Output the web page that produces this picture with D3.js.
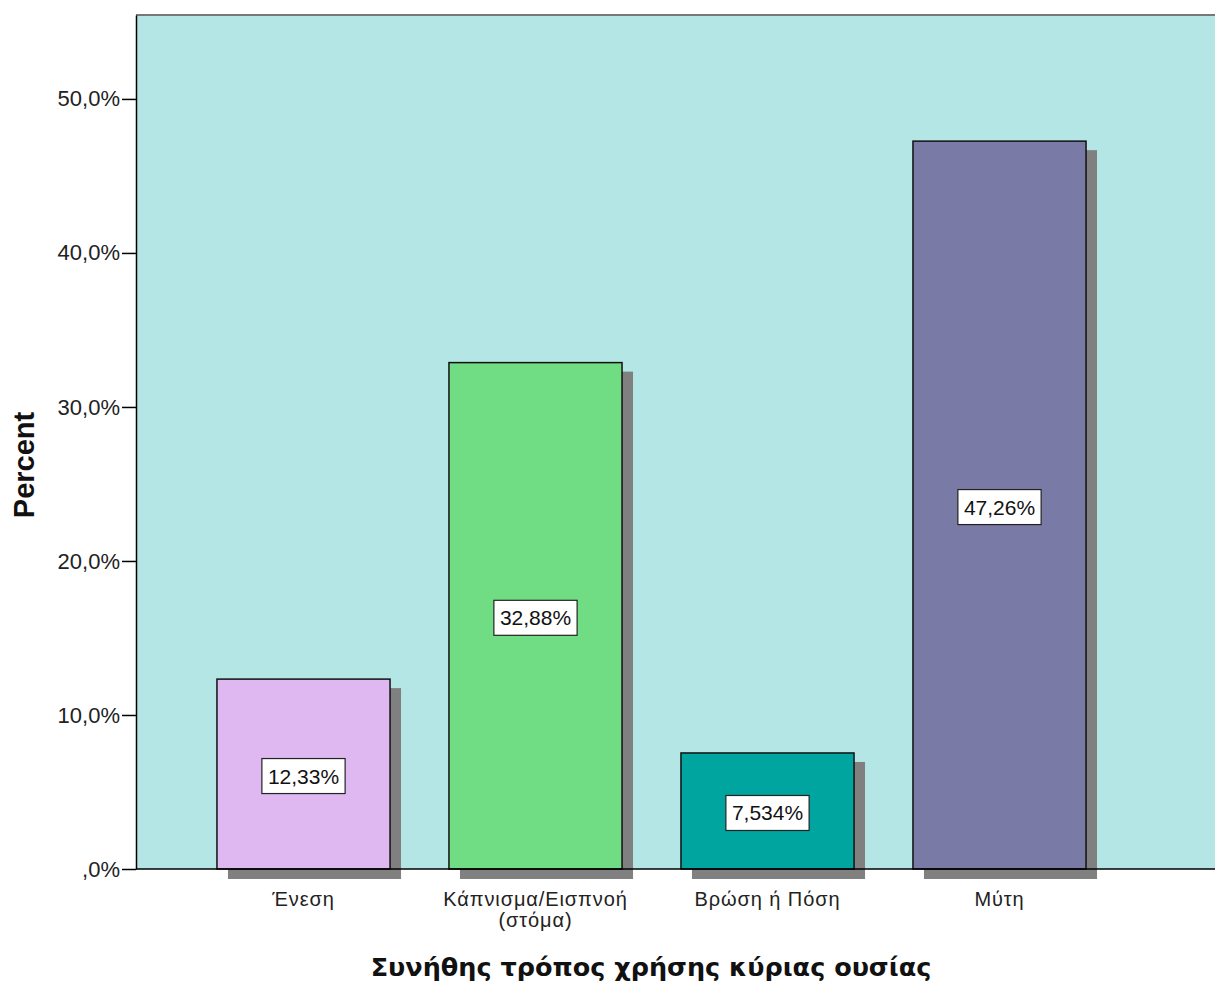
<!DOCTYPE html>
<html><head><meta charset="utf-8">
<script src="https://cdn.jsdelivr.net/npm/d3@7"></script>
<style>body{margin:0;background:#fff}</style>
</head><body>
<script>
const categories = [["Ένεση"], ["Κάπνισμα/Εισπνοή", "(στόμα)"], ["Βρώση ή Πόση"], ["Μύτη"]];
const values = [12.33, 32.88, 7.534, 47.26];
const valueLabels = ["12,33%", "32,88%", "7,534%", "47,26%"];
const colors = ["#dfb8f2", "#70dd85", "#00a5a0", "#7a7aa6"];
const yTicks = [0, 10, 20, 30, 40, 50];
const yTickLabels = [",0%", "10,0%", "20,0%", "30,0%", "40,0%", "50,0%"];
const xTitle = "Συνήθης τρόπος χρήσης κύριας ουσίας";
const yTitle = "Percent";

const W = 1215, H = 983;
const svg = d3.select("body").append("svg").attr("width", W).attr("height", H);
const pLeft = 136, pTop = 15, pBottom = 869, pRight = 1215;
const y = d3.scaleLinear().domain([0, 55.45]).range([pBottom, pTop]);
const x = d3.scaleBand().domain(d3.range(categories.length)).range([187.5, 1115.5]).paddingInner(0.254).paddingOuter(0.127);

svg.append("rect").attr("x", pLeft).attr("y", pTop).attr("width", pRight - pLeft + 5).attr("height", pBottom - pTop).attr("fill", "#b4e6e6");
svg.append("line").attr("x1", pLeft).attr("x2", pRight).attr("y1", pTop).attr("y2", pTop).attr("stroke", "#777").attr("stroke-width", 2);

// shadows
svg.selectAll("rect.shadow").data(values).enter().append("rect")
  .attr("x", (d, i) => x(i) + 11).attr("y", d => y(d) + 9)
  .attr("width", x.bandwidth()).attr("height", d => pBottom - y(d) + 1)
  .attr("fill", "#808080");

// y axis
const yAxis = d3.axisLeft(y).tickValues(yTicks).tickFormat((d, i) => yTickLabels[i]).tickSize(14).tickSizeOuter(0);
const ga = svg.append("g").attr("transform", `translate(${pLeft},0)`).call(yAxis);
ga.select(".domain").attr("stroke", "#000").attr("stroke-width", 1.5);
ga.selectAll(".tick line").attr("stroke", "#000").attr("stroke-width", 1.5);
ga.selectAll(".tick text").attr("font-family", "Liberation Sans, Arial, sans-serif").attr("font-size", 22).attr("fill", "#222").attr("x", -16);

// bars
svg.selectAll("rect.bar").data(values).enter().append("rect")
  .attr("x", (d, i) => x(i)).attr("y", d => y(d))
  .attr("width", x.bandwidth()).attr("height", d => pBottom - y(d))
  .attr("fill", (d, i) => colors[i]).attr("stroke", "#111").attr("stroke-width", 1.5);

// x axis
const gx = svg.append("g").attr("transform", `translate(0,${pBottom})`);
gx.append("line").attr("x1", pLeft).attr("x2", pRight).attr("y1", 0).attr("y2", 0).attr("stroke", "#000").attr("stroke-width", 1.5);
categories.forEach((c, i) => {
  const cx = x(i) + x.bandwidth() / 2;
  const t = gx.append("text").attr("x", cx).attr("y", 37).attr("text-anchor", "middle")
    .attr("font-family", "Liberation Sans, Arial, sans-serif").attr("font-size", 20).attr("letter-spacing", 0.9).attr("fill", "#222");
  c.forEach((line, j) => t.append("tspan").attr("x", cx).attr("dy", j === 0 ? 0 : 21).text(line));
});

// value labels
values.forEach((v, i) => {
  const cx = x(i) + x.bandwidth() / 2;
  const cy = (y(v) + pBottom) / 2 + 2;
  const g = svg.append("g");
  const t = g.append("text").attr("x", cx).attr("y", cy + 7.5).attr("text-anchor", "middle")
    .attr("font-family", "Liberation Sans, Arial, sans-serif").attr("font-size", 21).attr("fill", "#111").text(valueLabels[i]);
  const bb = t.node().getBBox();
  g.insert("rect", "text").attr("x", bb.x - 6).attr("y", cy - 17.5).attr("width", bb.width + 12).attr("height", 35)
    .attr("fill", "#fff").attr("stroke", "#222").attr("stroke-width", 1.2);
});

// titles
svg.append("text").attr("transform", "translate(34,465) rotate(-90)").attr("text-anchor", "middle")
  .attr("font-family", "Liberation Sans, Arial, sans-serif").attr("font-weight", "bold").attr("font-size", 29).attr("fill", "#111").text(yTitle);
svg.append("text").attr("x", 651).attr("y", 976).attr("text-anchor", "middle")
  .attr("font-family", "DejaVu Sans, sans-serif").attr("font-weight", "bold").attr("font-size", 25.5).attr("fill", "#111").text(xTitle);
</script>
</body></html>
